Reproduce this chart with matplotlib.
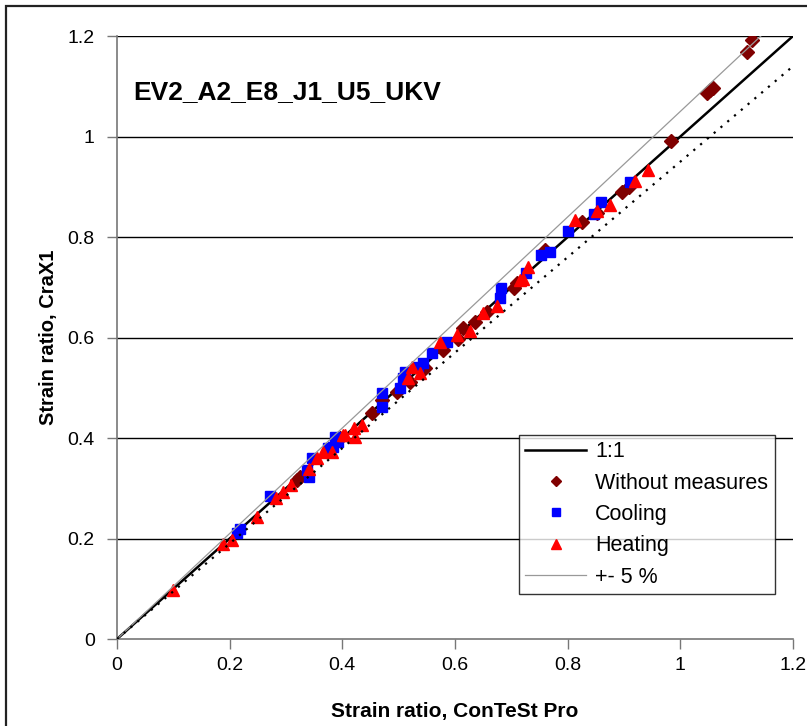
import numpy as np
import matplotlib.pyplot as plt
from matplotlib.patches import Rectangle

plt.rcParams['font.family'] = ['Liberation Sans', 'DejaVu Sans']

# Without measures
wm_x = [0.319, 0.325, 0.395, 0.452, 0.470, 0.497, 0.520, 0.547, 0.579, 0.606,
        0.615, 0.636, 0.656, 0.704, 0.710, 0.760, 0.826, 0.852, 0.896, 0.908,
        0.983, 1.047, 1.053, 1.058, 1.118, 1.128]
wm_y = [0.316, 0.323, 0.400, 0.449, 0.476, 0.492, 0.512, 0.539, 0.575, 0.598,
        0.618, 0.631, 0.651, 0.698, 0.708, 0.775, 0.829, 0.847, 0.890, 0.900,
        0.992, 1.086, 1.092, 1.096, 1.168, 1.193]

# Cooling
co_x = [0.213, 0.218, 0.272, 0.337, 0.340, 0.346, 0.375, 0.383, 0.387, 0.393,
        0.470, 0.470, 0.502, 0.508, 0.511, 0.535, 0.544, 0.559, 0.585, 0.680,
        0.681, 0.726, 0.753, 0.769, 0.801, 0.846, 0.859, 0.911]
co_y = [0.210, 0.218, 0.285, 0.336, 0.323, 0.360, 0.380, 0.382, 0.403, 0.393,
        0.489, 0.462, 0.499, 0.519, 0.532, 0.542, 0.549, 0.569, 0.592, 0.678,
        0.698, 0.728, 0.764, 0.771, 0.811, 0.845, 0.869, 0.909]

# Heating
he_x = [0.099, 0.189, 0.204, 0.249, 0.283, 0.294, 0.309, 0.340, 0.355, 0.366,
        0.381, 0.402, 0.405, 0.420, 0.423, 0.434, 0.517, 0.523, 0.537, 0.573,
        0.603, 0.627, 0.650, 0.674, 0.715, 0.720, 0.730, 0.813, 0.852, 0.875,
        0.920, 0.942]
he_y = [0.098, 0.190, 0.197, 0.243, 0.280, 0.293, 0.306, 0.338, 0.360, 0.373,
        0.373, 0.406, 0.406, 0.419, 0.403, 0.426, 0.519, 0.542, 0.529, 0.592,
        0.605, 0.612, 0.649, 0.663, 0.714, 0.716, 0.741, 0.834, 0.852, 0.864,
        0.912, 0.933]

ticks = [0, 0.2, 0.4, 0.6, 0.8, 1.0, 1.2]
tick_labels = ['0', '0.2', '0.4', '0.6', '0.8', '1', '1.2']
line = np.array([0, 1.2])

fig = plt.figure(figsize=(8.07, 7.26), dpi=100)
ax = fig.add_axes([0.145, 0.1198, 0.8377, 0.8306])

# outer chart frame (cut off at right and bottom)
fig.patches.append(Rectangle((0.0075, -0.1), 1.2, 1.0915, transform=fig.transFigure,
                             fill=False, edgecolor='#222222', linewidth=1.6))

for t in ticks[1:]:
    ax.axhline(t, color='black', linewidth=1.0, zorder=1)

ax.plot(line, line, color='black', linewidth=1.8, label='1:1', zorder=2)
ax.plot(wm_x, wm_y, 'D', color='#800000', markersize=6.8, linestyle='none',
        label='Without measures', zorder=3)
ax.plot(co_x, co_y, 's', color='#0000ff', markersize=7.5, linestyle='none',
        label='Cooling', zorder=4)
ax.plot(he_x, he_y, '^', color='#ff0000', markersize=9, linestyle='none',
        label='Heating', zorder=5)
ax.plot(line, line * 1.05, color='#999999', linewidth=0.9, label='+- 5 %', zorder=6)
ax.plot(line, line * 0.95, color='black', linewidth=1.6, linestyle=(0, (1, 3)), zorder=6)

ax.set_xlim(0, 1.2)
ax.set_ylim(0, 1.2)
ax.set_xticks(ticks)
ax.set_xticklabels(tick_labels)
ax.set_yticks(ticks)
ax.set_yticklabels(tick_labels)
ax.tick_params(direction='out', length=7, width=1, color='#777777', labelsize=14, pad=6)
ax.tick_params(axis='y', pad=9)

for s in ['top', 'right']:
    ax.spines[s].set_visible(False)
for s in ['left', 'bottom']:
    ax.spines[s].set_color('#777777')
    ax.spines[s].set_linewidth(1.2)

ax.set_xlabel('Strain ratio, ConTeSt Pro', fontsize=15, fontweight='bold', labelpad=20)
ax.set_ylabel('Strain ratio, CraX1', fontsize=14.5, fontweight='bold', labelpad=7)

ax.text(0.024, 0.907, 'EV2_A2_E8_J1_U5_UKV', transform=ax.transAxes,
        fontsize=19, fontweight='bold', va='center', ha='left')

leg = ax.legend(loc='lower right', bbox_to_anchor=(0.973, 0.0746), borderaxespad=0,
                fontsize=15.5, frameon=True, fancybox=False, handlelength=2.8,
                labelspacing=0.48, borderpad=0.3, handletextpad=0.45, markerscale=0.75)
leg.get_frame().set_edgecolor('black')
leg.get_frame().set_linewidth(1.0)

fig.savefig('out.png', dpi=100)
